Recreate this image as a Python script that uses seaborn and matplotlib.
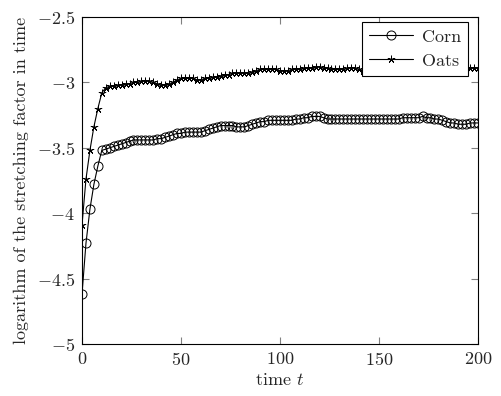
import matplotlib
matplotlib.use("Agg")
import matplotlib.pyplot as plt
import numpy as np
import pandas as pd
import seaborn as sns

sns.set_style("ticks")
plt.rcParams["font.family"] = ["cmr10", "DejaVu Serif"]
plt.rcParams["mathtext.fontset"] = "cm"
plt.rcParams["axes.formatter.use_mathtext"] = True

# time axis, one sample every 2 steps
t = list(range(0, 201, 2))

corn = [-4.62, -4.23, -3.97, -3.78, -3.64, -3.52, -3.51, -3.50, -3.49, -3.48,
        -3.47, -3.46, -3.45, -3.44, -3.44, -3.44, -3.44, -3.44, -3.44, -3.43,
        -3.43, -3.42, -3.41, -3.40, -3.39, -3.39, -3.38, -3.38, -3.38, -3.38,
        -3.38, -3.37, -3.36, -3.35, -3.34, -3.33, -3.33, -3.33, -3.33, -3.34,
        -3.34, -3.34, -3.33, -3.32, -3.31, -3.30, -3.30, -3.29, -3.29, -3.29,
        -3.29, -3.29, -3.29, -3.29, -3.28, -3.28, -3.27, -3.27, -3.26, -3.26,
        -3.26, -3.27, -3.28, -3.28, -3.28, -3.28, -3.28, -3.28, -3.28, -3.28,
        -3.28, -3.28, -3.28, -3.28, -3.28, -3.28, -3.28, -3.28, -3.28, -3.28,
        -3.28, -3.27, -3.27, -3.27, -3.27, -3.27, -3.26, -3.27, -3.27, -3.28,
        -3.28, -3.29, -3.30, -3.31, -3.31, -3.32, -3.32, -3.32, -3.31, -3.31,
        -3.31]

oats = [-4.09, -3.74, -3.52, -3.34, -3.20, -3.08, -3.04, -3.03, -3.03, -3.02,
        -3.02, -3.01, -3.01, -3.00, -3.00, -2.99, -2.99, -2.99, -3.00, -3.01,
        -3.02, -3.02, -3.01, -3.00, -2.98, -2.97, -2.97, -2.97, -2.97, -2.98,
        -2.98, -2.97, -2.97, -2.96, -2.96, -2.95, -2.94, -2.94, -2.93, -2.93,
        -2.93, -2.93, -2.93, -2.92, -2.91, -2.90, -2.90, -2.90, -2.90, -2.90,
        -2.91, -2.91, -2.91, -2.90, -2.90, -2.90, -2.89, -2.89, -2.89, -2.88,
        -2.88, -2.89, -2.89, -2.90, -2.90, -2.90, -2.90, -2.89, -2.89, -2.89,
        -2.90, -2.91, -2.92, -2.92, -2.92, -2.92, -2.92, -2.91, -2.91, -2.91,
        -2.90, -2.90, -2.90, -2.90, -2.90, -2.90, -2.90, -2.90, -2.90, -2.90,
        -2.90, -2.90, -2.90, -2.90, -2.89, -2.89, -2.89, -2.89, -2.89, -2.89,
        -2.89]

fig = plt.figure(figsize=(5.02, 3.96), dpi=100)
ax = fig.add_axes([82 / 502, 52 / 396, 396 / 502, 327 / 396])

sns.lineplot(x=t, y=corn, label="Corn", color="black", linewidth=0.8,
             marker="o", markersize=6.5, markerfacecolor="none",
             markeredgecolor="black", markeredgewidth=0.7, ax=ax)
sns.lineplot(x=t, y=oats, label="Oats", color="black", linewidth=0.8,
             marker=(5, 2), markersize=5.5, markeredgecolor="black",
             markeredgewidth=0.6, ax=ax)

ax.set_xlim(0, 200)
ax.set_ylim(-5, -2.5)
ax.set_xticks([0, 50, 100, 150, 200])
ax.set_yticks([-5, -4.5, -4, -3.5, -3, -2.5])
ax.set_yticklabels([r"$-5$", r"$-4.5$", r"$-4$", r"$-3.5$", r"$-3$", r"$-2.5$"])
ax.set_xticklabels([r"$0$", r"$50$", r"$100$", r"$150$", r"$200$"])
ax.tick_params(direction="in", top=True, right=True, length=5,
               color="gray", labelsize=13, pad=5)
for s in ax.spines.values():
    s.set_color("black")
    s.set_linewidth(0.8)

ax.set_xlabel(r"time $t$", fontsize=13, labelpad=3)
ax.set_ylabel("logarithm of the stretching factor in time", fontsize=13,
              labelpad=6)

leg = ax.legend(loc="upper right", fontsize=13, frameon=True, fancybox=False,
                edgecolor="black", framealpha=1, borderpad=0.4,
                handlelength=2.4, labelspacing=0.45, handletextpad=0.5,
                borderaxespad=0, bbox_to_anchor=(0.975, 0.985))
leg.get_frame().set_linewidth(0.8)

fig.savefig("out.png", dpi=100)
